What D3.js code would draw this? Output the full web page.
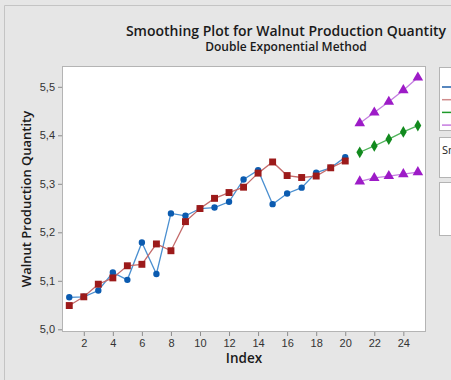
<!DOCTYPE html>
<html><head><meta charset="utf-8">
<script src="https://cdn.jsdelivr.net/npm/d3@7"></script>
<style>
html,body{margin:0;padding:0;background:#e6e6e6;}
svg{display:block;font-family:"Open Sans","Noto Sans",sans-serif;}
</style></head>
<body>
<svg id="c" width="451" height="380"></svg>
<script>
const indexActual = d3.range(1, 21);
const actual = [5.066,5.067,5.080,5.117,5.102,5.179,5.114,5.239,5.234,5.249,
                5.251,5.263,5.309,5.328,5.258,5.280,5.292,5.323,5.333,5.355];
const fits   = [5.049,5.067,5.093,5.106,5.131,5.134,5.176,5.162,5.222,5.249,
                5.270,5.282,5.293,5.322,5.345,5.317,5.313,5.316,5.333,5.347];
const indexForecast = [21,22,23,24,25];
const forecasts = [5.365,5.378,5.392,5.407,5.420];
const upperPI = [5.425,5.447,5.469,5.493,5.519];
const lowerPI = [5.305,5.312,5.316,5.320,5.324];
const xTicks = [2,4,6,8,10,12,14,16,18,20,22,24];
const yTicks = [5.0,5.1,5.2,5.3,5.4,5.5];
const yTickLabels = ["5,0","5,1","5,2","5,3","5,4","5,5"];
const titleText = "Smoothing Plot for Walnut Production Quantity";
const subtitleText = "Double Exponential Method";
const xLabel = "Index";
const yLabel = "Walnut Production Quantity";
const legendColors = ["#1f5fa8","#d08c8c","#1e9a2a","#c67be0"];

const svg = d3.select("#c");
svg.append("path").attr("d","M4.5,380 V5.5 H451").attr("fill","none").attr("stroke","#c4c4c4");

const L=62, R=426, T=66, B=332;
const x = d3.scaleLinear().domain([0.5, 25.56]).range([L, R]);
const y = d3.scaleLinear().domain([5.0, 5.5]).range([329.3, 86.8]);

svg.append("rect").attr("x",L+0.5).attr("y",T+0.5).attr("width",R-L-1).attr("height",B-T-1)
  .attr("fill","#fff").attr("stroke","#b4b4b4");

const gx = svg.append("g").attr("transform",`translate(0,${B})`)
  .call(d3.axisBottom(x).tickValues(xTicks).tickSize(4).tickPadding(3).tickFormat(d3.format("d")));
const gy = svg.append("g").attr("transform",`translate(${L},0)`)
  .call(d3.axisLeft(y).tickValues(yTicks).tickSize(4).tickPadding(3).tickFormat((d,i)=>yTickLabels[i]));
[gx,gy].forEach(g=>{
  g.select(".domain").remove();
  g.selectAll(".tick line").attr("stroke","#8c8c8c");
  g.selectAll(".tick text").attr("fill","#333").style("font-size","11px");
});

const line = (xs)=>d3.line().x((d,i)=>x(xs[i])).y(d=>y(d));
function series(xs, vals, lineColor, markColor, shape, size){
  svg.append("path").datum(vals).attr("d",line(xs)).attr("fill","none")
    .attr("stroke",lineColor).attr("stroke-width",1.3);
  svg.append("g").selectAll("path").data(vals).join("path")
    .attr("transform",(d,i)=>`translate(${x(xs[i])},${y(d)})`)
    .attr("d",d3.symbol().type(shape).size(size)).attr("fill",markColor);
}
series(indexActual, actual, "#4a8fd0", "#0b5bb0", d3.symbolCircle, 32);
series(indexActual, fits, "#c46a6a", "#9c1a1a", d3.symbolSquare, 48);
series(indexForecast, forecasts, "#4fb35a", "#128a1e", d3.symbolDiamond, 40);
series(indexForecast, upperPI, "#c47ee0", "#9d1bc7", d3.symbolTriangle, 48);
series(indexForecast, lowerPI, "#c47ee0", "#9d1bc7", d3.symbolTriangle, 48);

const lg = svg.append("g");
lg.append("rect").attr("x",439.5).attr("y",67.5).attr("width",30).attr("height",63).attr("fill","#fff").attr("stroke","#b4b4b4");
legendColors.forEach((c,i)=>{
  lg.append("line").attr("x1",442).attr("x2",460).attr("y1",87+i*12.7).attr("y2",87+i*12.7).attr("stroke",c).attr("stroke-width",1.5);
});
lg.append("rect").attr("x",439.5).attr("y",137.5).attr("width",30).attr("height",40).attr("fill","#fff").attr("stroke","#b4b4b4");
lg.append("text").attr("x",442).attr("y",154).text("Smoothing Constants").style("font-size","11px").attr("fill","#222");
lg.append("rect").attr("x",439.5).attr("y",182.5).attr("width",30).attr("height",53).attr("fill","#fff").attr("stroke","#b4b4b4");

svg.append("text").attr("x",286).attr("y",35.5).attr("text-anchor","middle")
  .style("font-size","14px").style("font-weight","600").attr("fill","#1a1a1a").text(titleText);
svg.append("text").attr("x",286).attr("y",51).attr("text-anchor","middle")
  .style("font-size","12px").style("font-weight","600").attr("fill","#1a1a1a").text(subtitleText);
svg.append("text").attr("x",244).attr("y",363).attr("text-anchor","middle")
  .style("font-size","13.5px").style("font-weight","600").attr("fill","#1a1a1a").text(xLabel);
svg.append("text").attr("transform","translate(31,199) rotate(-90)").attr("text-anchor","middle")
  .style("font-size","13px").style("font-weight","600").attr("fill","#1a1a1a").text(yLabel);
</script>
</body></html>
